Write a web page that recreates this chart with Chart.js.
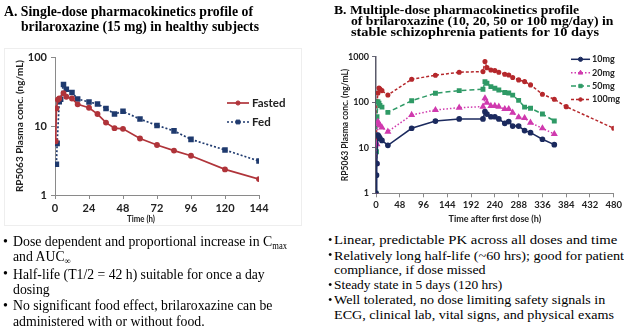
<!DOCTYPE html>
<html>
<head>
<meta charset="utf-8">
<script src="https://cdn.jsdelivr.net/npm/chart.js@4/dist/chart.umd.min.js"></script>
<style>
  html,body{margin:0;padding:0;background:#fff;}
  #wrap{position:relative;width:624px;height:334px;background:#fff;overflow:hidden;}
  .ln{position:absolute;white-space:nowrap;transform-origin:0 50%;color:#000;}
  .serifb{font-family:"Liberation Serif","Times New Roman",serif;font-weight:bold;}
  .serif{font-family:"Liberation Serif","Times New Roman",serif;}
  .sans{font-family:Lato,"Open Sans",sans-serif;font-weight:bold;color:#222;}
  .sub{font-size:0.62em;vertical-align:-0.28em;}
  canvas{position:absolute;top:0;}
  #frameA{position:absolute;left:4px;top:48px;width:296px;height:176px;border:1px solid #eeeeee;}
</style>
</head>
<body>
<div id="wrap">
  <div id="frameA"></div>
  <canvas id="ca" width="312" height="230" style="left:0"></canvas>
  <canvas id="cb" width="312" height="230" style="left:312px"></canvas>

  <div class="ln serifb" data-x="4" data-y="11" data-s="14.5" data-w="249" data-g="ta">A. Single-dose pharmacokinetics profile of</div>
  <div class="ln serifb" data-x="20.7" data-y="26" data-s="14.5" data-w="238" data-g="ta">brilaroxazine (15 mg) in healthy subjects</div>

  <div class="ln serifb" data-x="333.7" data-y="10" data-s="12.5" data-w="245" data-g="tb">B. Multiple-dose pharmacokinetics profile</div>
  <div class="ln serifb" data-x="351.3" data-y="21" data-s="12.5" data-w="262.4" data-g="tb">of brilaroxazine (10, 20, 50 or 100 mg/day) in</div>
  <div class="ln serifb" data-x="351.3" data-y="32" data-s="12.5" data-w="248" data-g="tb">stable schizophrenia patients for 10 days</div>

  <div class="ln sans" data-x="127" data-y="219.5" data-s="8.5" data-w="28" data-g="xa">Time (h)</div>

  <div class="ln serif" data-x="3" data-y="241.7" data-s="14" data-g="bul">•</div>
  <div class="ln serif" data-x="13.3" data-y="241.7" data-s="15" data-w="274" data-g="ba">Dose dependent and proportional increase in C<span class="sub">max</span></div>
  <div class="ln serif" data-x="13.3" data-y="256.7" data-s="15" data-g="ba">and AUC<span class="sub">∞</span></div>
  <div class="ln serif" data-x="3" data-y="274" data-s="14" data-g="bul">•</div>
  <div class="ln serif" data-x="13.3" data-y="274" data-s="15" data-w="251.7" data-g="ba">Half-life (T1/2 = 42 h) suitable for once a day</div>
  <div class="ln serif" data-x="13.3" data-y="289" data-s="15" data-g="ba">dosing</div>
  <div class="ln serif" data-x="3" data-y="305.7" data-s="14" data-g="bul">•</div>
  <div class="ln serif" data-x="13.3" data-y="305.7" data-s="15" data-w="259.4" data-g="ba">No significant food effect, brilaroxazine can be</div>
  <div class="ln serif" data-x="13.3" data-y="321" data-s="15" data-w="191.7" data-g="ba">administered with or without food.</div>

  <div class="ln serif" data-x="328" data-y="240" data-s="12.5" data-g="bul">•</div>
  <div class="ln serif" data-x="333.7" data-y="240" data-s="13.5" data-w="283.3" data-g="bb">Linear, predictable PK across all doses and time</div>
  <div class="ln serif" data-x="328" data-y="255.7" data-s="12.5" data-g="bul">•</div>
  <div class="ln serif" data-x="333.7" data-y="255.7" data-s="13.5" data-w="290" data-g="bb">Relatively long half-life (~60 hrs); good for patient</div>
  <div class="ln serif" data-x="333.7" data-y="270" data-s="13.5" data-w="151.6" data-g="bb">compliance, if dose missed</div>
  <div class="ln serif" data-x="328" data-y="285" data-s="12.5" data-g="bul">•</div>
  <div class="ln serif" data-x="333.7" data-y="285" data-s="13.5" data-w="168.3" data-g="bb">Steady state in 5 days (120 hrs)</div>
  <div class="ln serif" data-x="328" data-y="300" data-s="12.5" data-g="bul">•</div>
  <div class="ln serif" data-x="333.7" data-y="300" data-s="13.5" data-w="271.3" data-g="bb">Well tolerated, no dose limiting safety signals in</div>
  <div class="ln serif" data-x="333.7" data-y="314.3" data-s="13.5" data-w="280" data-g="bb">ECG, clinical lab, vital signs, and physical exams</div>
</div>

<script>
// ---------- Data: chart A (single dose, 15 mg) ----------
const timeFasted = [0.5, 1, 2, 3, 6, 8, 12, 16, 24, 30, 36, 42, 48, 60, 72, 84, 96, 120, 144];
const fasted     = [6, 18, 24, 25, 30, 26.5, 25, 20.6, 18.4, 14.9, 11.2, 9.3, 9.1, 6.6, 5.3, 4.4, 3.7, 2.35, 1.7];
const timeFed    = [1, 1.5, 3, 4, 6, 8, 12, 16, 24, 30, 36, 42, 48, 60, 72, 84, 96, 120, 144];
const fed        = [2.8, 5.6, 22.5, 24.5, 40, 34, 30.5, 24.6, 22.3, 20.8, 18, 14.9, 16.3, 12.6, 10.2, 8.5, 6.4, 4.5, 3.1];
const yTicksA    = [1, 10, 100];

// ---------- Data: chart B (multiple dose, 10 days) ----------
const timeB   = [0, 1, 2, 4, 6, 8, 12, 24, 72, 120, 168, 216, 220, 224, 232, 240, 248, 260, 268, 276, 288, 300, 312, 336, 360, 384, 480];
const dose10  = [1, 2.5, 4.5, 19, 17.5, 16, 14.5, 11.3, 26.8, 38.5, 43, 43, 62, 55, 48, 48, 43, 34.5, 37.6, 30, 30, 23.8, 21.5, 15.4, 11.7, null, null];
const dose20  = [1, 4.6, 12, 37.5, 33.4, 31, 28, 22.6, 52.6, 67.6, 76, 80, 122, 98, 83, 83, 80, 71, 71, 59, 46.8, 45, 35.6, 26.8, 20, null, null];
const dose50  = [1, 8.2, 48, 103, 95, 85, 78, 60, 108, 158, 180, 193, 284, 261, 220, 203, 186, 163, 160, 143, 110, 78, 74, 55, 38.8, null, null];
const dose100 = [1, 16, 103, 160, 205, 195, 180, 144, 320, 392, 456, 471, 780, 575, 512, 495, 456, 412, 395, 350, 309, 284, 240, 150, 116, 80, 26.8];
const yTicksB = [1, 10, 100, 1000];
const seriesB = ['10mg', '20mg', '50mg', '100mg'];

const pts = (xs, ys) => xs.map((x, i) => ({x: x, y: ys[i]})).filter(p => p.y !== null);

// ---------- text fitting ----------
function fit(){
  const els = Array.from(document.querySelectorAll('.ln'));
  const groups = {};
  els.forEach(el => {
    el.style.transform = 'none';
    const s = +el.dataset.s;
    el.style.fontSize = s + 'px';
    el.style.lineHeight = s + 'px';
    el.style.left = el.dataset.x + 'px';
    el.style.top = (+el.dataset.y - s / 2) + 'px';
    const nat = el.getBoundingClientRect().width;
    el._k = undefined;
    if (el.dataset.w) {
      el._k = (+el.dataset.w) / nat;
      (groups[el.dataset.g] = groups[el.dataset.g] || []).push(el._k);
    }
  });
  els.forEach(el => {
    let k = el._k;
    if (k === undefined) {
      const g = groups[el.dataset.g];
      k = g ? g.reduce((a, b) => a + b, 0) / g.length : 1;
    }
    el.style.transform = 'scaleX(' + k + ')';
  });
}
fit();
if (document.fonts && document.fonts.ready) document.fonts.ready.then(fit);

// ---------- placed legend plugin ----------
const placedLegend = {
  id: 'placedLegend',
  afterDraw(chart, args, opts) {
    if (!opts || !opts.items) return;
    const ctx = chart.ctx;
    opts.items.forEach((it, i) => {
      const ds = chart.data.datasets[i];
      ctx.save();
      ctx.strokeStyle = ds.borderColor;
      ctx.lineWidth = ds.borderWidth;
      ctx.setLineDash(ds.borderDash || []);
      ctx.beginPath();
      ctx.moveTo(it.x, it.y);
      ctx.lineTo(it.x + opts.len, it.y);
      ctx.stroke();
      ctx.setLineDash([]);
      ctx.fillStyle = ds.pointBackgroundColor;
      ctx.strokeStyle = ds.pointBorderColor;
      ctx.lineWidth = 1;
      Chart.helpers.drawPoint(ctx, {pointStyle: ds.pointStyle, radius: ds.pointRadius, borderWidth: 1, rotation: 0}, it.x + opts.len / 2, it.y);
      ctx.fillStyle = opts.color;
      ctx.font = opts.font;
      ctx.textBaseline = 'middle';
      ctx.textAlign = 'left';
      ctx.fillText(ds.label, it.x + opts.len + opts.gap, it.y);
      ctx.restore();
    });
  }
};

const axisGray = '#8a8a8a';
const tickColor = '#222';

// ---------- Chart A ----------
new Chart(document.getElementById('ca'), {
  type: 'line',
  data: {
    datasets: [
      {label: 'Fasted', data: pts(timeFasted, fasted), borderColor: '#B0343A', backgroundColor: '#B0343A',
       pointBackgroundColor: '#B0343A', pointBorderColor: '#B0343A', borderWidth: 1.7, pointStyle: 'circle', pointRadius: 2.1, tension: 0},
      {label: 'Fed', data: pts(timeFed, fed), borderColor: '#1F3A6E', backgroundColor: '#1F3A6E',
       pointBackgroundColor: '#1F3A6E', pointBorderColor: '#1F3A6E', borderWidth: 1.7, borderDash: [2, 2], pointStyle: 'rect', pointRadius: 2.7, tension: 0}
    ]
  },
  options: {
    responsive: false, animation: false, devicePixelRatio: 1,
    layout: {padding: {left: 0, right: 53, top: 57, bottom: 0}},
    plugins: {
      legend: {display: false}, tooltip: {enabled: false},
      placedLegend: {len: 22, gap: 3, color: '#222', font: 'bold 11.5px Lato, sans-serif',
        items: [{x: 227, y: 103}, {x: 227, y: 122}]}
    },
    scales: {
      x: {
        type: 'linear', min: 0, max: 144,
        ticks: {stepSize: 24, color: tickColor, font: {family: 'Lato', size: 11, weight: 'bold'}, padding: 3, maxRotation: 0},
        grid: {drawOnChartArea: false, color: axisGray, tickLength: 4},
        border: {color: axisGray, width: 1},
        afterFit(s) { s.height = 35; }
      },
      y: {
        type: 'logarithmic', min: 1, max: 100,
        afterBuildTicks(s) { s.ticks = yTicksA.map(v => ({value: v})); },
        ticks: {color: tickColor, font: {family: 'Lato', size: 11, weight: 'bold'}, padding: 4, callback: v => String(v)},
        grid: {drawOnChartArea: false, color: axisGray, tickLength: 4},
        border: {color: axisGray, width: 1},
        title: {display: true, text: 'RP5063 Plasma conc. (ng/mL)', color: '#222',
          font: {family: 'Lato', size: 10, weight: 'bold'}, padding: {top: 14, bottom: 0}},
        afterFit(s) { s.width = 55; }
      }
    }
  },
  plugins: [placedLegend]
});

// ---------- Chart B ----------
const stylesB = [
  {c: '#1B2A5E', dash: [], ps: 'circle', r: 2.1},
  {c: '#D03AAE', dash: [1.5, 2], ps: 'triangle', r: 2.6},
  {c: '#2F9A66', dash: [5, 3], ps: 'rect', r: 2.4},
  {c: '#B5282C', dash: [3, 2], ps: 'circle', r: 1.8}
];
const valsB = [dose10, dose20, dose50, dose100];
new Chart(document.getElementById('cb'), {
  type: 'line',
  data: {
    datasets: seriesB.map((name, i) => ({
      label: name, data: pts(timeB, valsB[i]),
      borderColor: stylesB[i].c, backgroundColor: stylesB[i].c,
      pointBackgroundColor: stylesB[i].c, pointBorderColor: stylesB[i].c,
      borderWidth: 1.5, borderDash: stylesB[i].dash, pointStyle: stylesB[i].ps, pointRadius: stylesB[i].r, tension: 0
    }))
  },
  options: {
    responsive: false, animation: false, devicePixelRatio: 1,
    layout: {padding: {left: 0, right: 8.7, top: 56.7, bottom: 0}},
    plugins: {
      legend: {display: false}, tooltip: {enabled: false},
      placedLegend: {len: 19, gap: 2, color: '#222', font: 'bold 9px Lato, sans-serif',
        items: [{x: 259, y: 59.3}, {x: 259, y: 72.8}, {x: 259, y: 86}, {x: 259, y: 99.5}]}
    },
    scales: {
      x: {
        type: 'linear', min: 0, max: 480,
        ticks: {stepSize: 48, color: tickColor, font: {family: 'Lato', size: 9.5, weight: 'bold'}, padding: 2, maxRotation: 0, autoSkip: false},
        grid: {drawOnChartArea: false, color: axisGray, tickLength: 4},
        border: {color: axisGray, width: 1},
        title: {display: true, text: 'Time after first dose (h)', color: '#222',
          font: {family: 'Lato', size: 9, weight: 'bold'}, padding: {top: 0, bottom: 5.6}},
        afterFit(s) { s.height = 36.7; }
      },
      y: {
        type: 'logarithmic', min: 1, max: 1000,
        afterBuildTicks(s) { s.ticks = yTicksB.map(v => ({value: v})); },
        ticks: {color: tickColor, font: {family: 'Lato', size: 9, weight: 'bold'}, padding: 3, callback: v => String(v)},
        grid: {drawOnChartArea: false, color: '#6a6a78', tickLength: 4},
        border: {color: '#5a5a6a', width: 1.5},
        title: {display: true, text: 'RP5063 Plasma conc. (ng/mL)', color: '#222',
          font: {family: 'Lato', size: 8.5, weight: 'bold'}, padding: {top: 28, bottom: 0}},
        afterFit(s) { s.width = 64; }
      }
    }
  },
  plugins: [placedLegend]
});
</script>
</body>
</html>
